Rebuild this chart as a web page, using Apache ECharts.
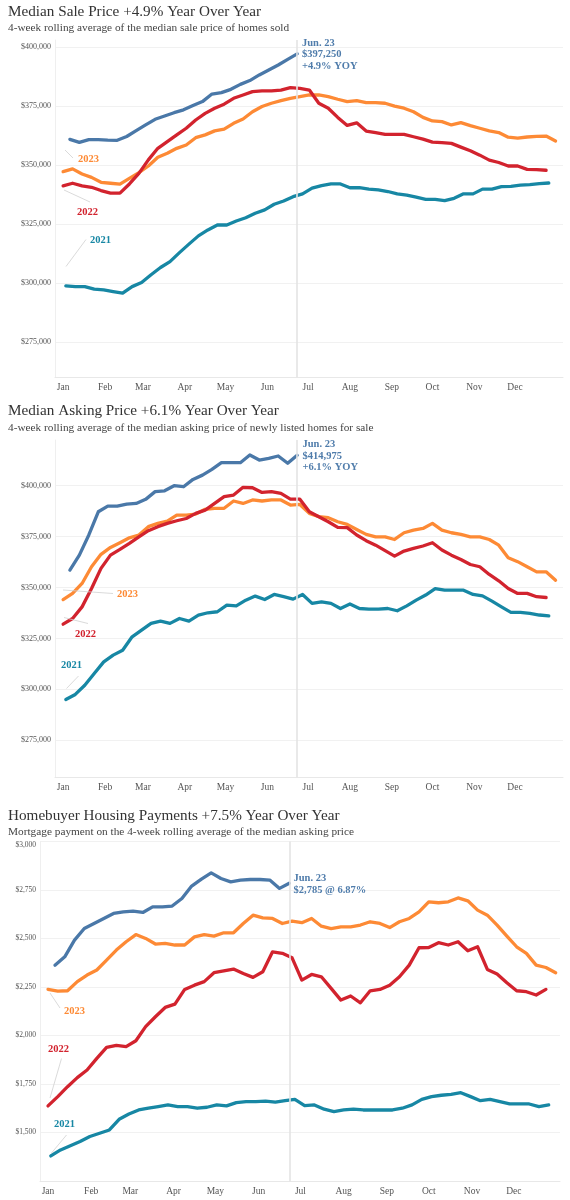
<!DOCTYPE html>
<html>
<head>
<meta charset="utf-8">
<script src="https://cdn.jsdelivr.net/npm/echarts@6/dist/echarts.min.js"></script>
<style>
html,body{margin:0;padding:0;background:#ffffff;}
#c{width:570px;height:1200px;}
</style>
</head>
<body>
<div id="c"></div>
<script>
// ---------- categories / ticks ----------
const MONTHS = ['Jan','Feb','Mar','Apr','May','Jun','Jul','Aug','Sep','Oct','Nov','Dec'];
const MONTH_START_DAYS = [0,31,59,90,120,151,181,212,243,273,304,334];
const LATEST_DAY = 173;            // Jun. 23
const START_DAY_2024 = 5;          // first weekly observation (day of year)
const START_DAY_2023 = 0;
const START_DAY_2022 = 0;
const START_DAY_2021 = 2;
const PRICE_TICKS = [275,300,325,350,375,400];            // thousands of dollars
const PAYMENT_TICKS = [1500,1750,2000,2250,2500,2750,3000];

// ---------- Median sale price (thousands $) ----------
const sale2024 = [361.0,359.7,360.9,360.9,360.7,360.6,362.2,364.7,367.1,369.5,370.9,372.3,373.5,375.3,377.0,380.2,380.8,382.2,384.3,385.9,388.3,390.4,392.5,394.9,397.25];
const sale2023 = [347.3,348.5,346.3,344.9,342.8,342.4,342.0,344.5,346.9,349.7,353.4,355.1,357.2,358.6,361.7,362.9,364.6,365.3,367.8,369.6,372.7,374.9,376.3,377.4,378.4,
  379.1,379.8,379.8,379.1,378.0,377.0,377.4,376.6,376.6,376.3,375.1,374.2,372.7,370.3,368.8,368.5,367.1,368.1,366.8,365.7,364.6,363.9,361.9,361.5,
  362.0,362.3,362.4,360.3];
const sale2022 = [341.3,342.4,341.3,340.7,339.3,338.2,338.2,342.1,346.6,352.3,357.2,360.0,362.9,365.7,369.2,372.0,374.2,375.9,378.4,379.8,381.2,381.5,381.5,381.9,382.9,
  382.6,381.9,376.3,374.2,370.3,366.9,368.0,364.5,363.8,363.1,363.1,363.1,362.1,361.1,359.8,359.6,359.3,357.7,356.2,354.3,352.2,351.2,349.7,349.7,
  348.3,348.2,347.9];
const sale2021 = [298.9,298.6,298.6,297.5,297.2,296.5,295.8,298.6,300.3,303.6,306.7,309.2,313.0,316.6,320.1,322.6,324.7,324.7,326.4,327.8,329.7,331.1,333.5,334.9,336.7,
  337.9,340.3,341.4,342.1,342.1,340.5,340.5,339.9,339.6,338.9,337.9,337.4,336.5,335.6,335.6,335.0,336.0,337.9,337.9,339.9,339.9,341.0,341.1,341.6,
  341.8,342.2,342.5];

// ---------- Median asking price (thousands $) ----------
const ask2024 = [358.6,365.9,375.8,387.2,390.0,390.0,391.0,391.3,393.3,397.1,397.5,400.0,399.5,403.1,405.2,408.0,411.3,411.3,411.3,415.1,412.6,413.4,414.6,411.0,414.975];
const ask2023 = [344.1,347.1,352.0,360.2,366.3,369.7,372.0,374.4,375.8,379.9,381.5,382.6,385.6,385.6,386.1,388.4,388.9,388.9,392.5,391.3,393.0,392.5,393.0,393.0,390.5,
  390.8,386.4,384.8,384.3,382.3,381.0,378.5,376.1,374.9,374.9,373.6,376.9,378.2,379.0,381.5,378.2,376.9,376.1,374.9,374.9,373.6,370.8,364.6,362.7,360.2,357.7,357.7,353.6];
const ask2022 = [332.0,334.8,340.5,349.5,359.4,365.9,368.7,371.7,374.9,377.9,379.9,381.5,382.8,383.9,386.4,388.0,391.3,394.6,395.4,399.2,399.0,396.7,397.1,396.2,393.4,
  393.4,387.2,384.8,382.3,379.5,379.4,375.8,373.0,370.8,368.1,365.4,367.9,369.2,370.4,372.0,368.4,365.9,363.8,361.3,360.2,356.4,353.3,349.5,347.1,347.1,345.5,345.1];
const ask2021 = [295.0,297.5,302.0,307.8,313.5,316.8,319.2,325.8,329.1,332.4,333.5,332.4,334.8,333.5,336.4,337.6,338.1,341.4,341.0,343.8,345.8,344.1,346.6,345.5,344.3,
  346.6,342.2,343.0,342.2,339.7,341.9,339.7,339.4,339.4,339.7,338.6,341.0,343.8,346.3,349.5,348.7,348.7,348.7,346.6,345.9,343.3,340.5,337.8,337.8,337.3,336.5,336.1];

// ---------- Homebuyer monthly payment ($) ----------
const pay2024 = [2362,2405,2491,2551,2577,2603,2629,2637,2641,2634,2663,2663,2667,2706,2770,2806,2838,2809,2792,2801,2804,2804,2801,2758,2785];
const pay2023 = [2237,2228,2230,2277,2311,2337,2388,2440,2483,2520,2500,2471,2474,2466,2466,2508,2520,2512,2529,2529,2577,2620,2606,2603,2577,
  2589,2581,2603,2563,2551,2560,2560,2569,2586,2577,2556,2586,2603,2637,2689,2684,2689,2709,2694,2646,2620,2569,2512,2457,2423,2362,2350,2323];
const pay2022 = [1636,1684,1735,1782,1821,1881,1938,1948,1942,1972,2045,2096,2144,2161,2237,2259,2277,2323,2332,2342,2319,2299,2328,2431,2423,
  2400,2285,2314,2302,2242,2182,2203,2168,2230,2237,2259,2302,2362,2452,2453,2478,2466,2483,2436,2457,2340,2316,2271,2230,2225,2208,2237];
const pay2021 = [1378,1409,1430,1452,1478,1495,1512,1567,1594,1615,1624,1632,1641,1632,1632,1624,1629,1641,1636,1653,1658,1658,1661,1655,1663,
  1670,1637,1641,1619,1607,1615,1619,1615,1615,1615,1615,1624,1641,1670,1684,1691,1696,1704,1684,1663,1670,1658,1646,1646,1646,1632,1641];

// ---------- styling ----------
const C2024 = '#4a78a8', C2023 = '#fd8a35', C2022 = '#d2232e', C2021 = '#1787a4';
const SERIF = '"Liberation Serif","DejaVu Serif",serif';

function weekly(startDay, values){ return values.map((v,i)=>[startDay + 7*i, v]); }
function fmtK(v){ return '$' + v + ',000'; }
function fmtD(v){ const t = Math.floor(v/1000), r = v % 1000; return '$' + t + ',' + String(r).padStart(3,'0'); }

const grids = [
  {left:55, top:40,    width:508, height:337.3},
  {left:55, top:440,   width:508, height:337.3},
  {left:40, top:841.5, width:520, height:340.2}
];
const xRanges = [[-6,369.5],[-6,369.5],[-5.74,367.1]];
const yRanges = [[260.17,403.1],[256.8,422.45],[1245,3000]];
const yTicks = [PRICE_TICKS, PRICE_TICKS, PAYMENT_TICKS];
const yFmt = [fmtK, fmtK, fmtD];
const yFont = [8, 8, 7.5];

const xAxis = grids.map((g,i)=>({
  type:'value', gridIndex:i, min:xRanges[i][0], max:xRanges[i][1],
  axisLine:{show:true, onZero:false, lineStyle:{color:'#e8e8e8', width:1}},
  axisTick:{show:false, customValues:MONTH_START_DAYS},
  splitLine:{show:false},
  axisLabel:{customValues:MONTH_START_DAYS, margin:5, color:'#555', fontFamily:SERIF, fontSize:9.5,
    formatter:v=>MONTHS[MONTH_START_DAYS.indexOf(v)] || ''}
}));
const yAxis = grids.map((g,i)=>({
  type:'value', gridIndex:i, min:yRanges[i][0], max:yRanges[i][1],
  axisLine:{show:true, onZero:false, lineStyle:{color:'#efefef', width:1}},
  axisTick:{show:false, customValues:yTicks[i]},
  splitLine:{show:true, lineStyle:{color:'#f1f1f1', width:1}},
  axisLabel:{customValues:yTicks[i], margin:4, color:'#555', fontFamily:SERIF, fontSize:yFont[i],
    verticalAlignMaxLabel: i===2 ? 'top' : null, formatter:yFmt[i]}
}));

function line(idx, color, data, withMark){
  const s = {
    type:'line', xAxisIndex:idx, yAxisIndex:idx, data:data, showSymbol:false, symbol:'none',
    lineStyle:{color:color, width:3.3, cap:'round', join:'round'}, itemStyle:{color:color},
    animation:false, silent:true
  };
  if (withMark){
    s.markLine = {silent:true, symbol:['none','none'], label:{show:false},
      lineStyle:{color:'#e4e4e4', width:1.6, type:'solid'}, data:[{xAxis:LATEST_DAY}]};
  }
  return s;
}

const series = [];
[[sale2021,sale2023,sale2022,sale2024],[ask2021,ask2023,ask2022,ask2024],[pay2021,pay2023,pay2022,pay2024]].forEach((set,i)=>{
  series.push(line(i, C2021, weekly(START_DAY_2021, set[0]), true));
  series.push(line(i, C2023, weekly(START_DAY_2023, set[1]), false));
  series.push(line(i, C2022, weekly(START_DAY_2022, set[2]), false));
  series.push(line(i, C2024, weekly(START_DAY_2024, set[3]), false));
});

// ---------- text annotations ----------
function txt(x, y, text, font, fill){
  return {type:'text', x:x, y:y, silent:true, z:10,
    style:{text:text, font:font, fill:fill, verticalAlign:'middle', align:'left'}};
}
function leader(x1,y1,x2,y2){
  return {type:'line', silent:true, z:9, shape:{x1:x1,y1:y1,x2:x2,y2:y2},
    style:{stroke:'#d0d0d0', lineWidth:0.8}};
}
const TITLE_FONT = '15.2px ' + SERIF;
const SUB_FONT = '11.3px ' + SERIF;
const ANN_FONT = 'bold 10.5px ' + SERIF;
const YEAR_FONT = 'bold 10.5px ' + SERIF;

const graphic = [
  txt(8, 12, 'Median Sale Price +4.9% Year Over Year', TITLE_FONT, '#333'),
  txt(8, 28.5, '4-week rolling average of the median sale price of homes sold', SUB_FONT, '#444'),
  txt(302, 43, 'Jun. 23', ANN_FONT, '#4f7cab'),
  txt(302, 54.5, '$397,250', ANN_FONT, '#4f7cab'),
  txt(302, 66, '+4.9% YOY', ANN_FONT, '#4f7cab'),
  leader(65,150,73,158), txt(78, 159.5, '2023', YEAR_FONT, C2023),
  leader(64,190,90,202), txt(77, 212.5, '2022', YEAR_FONT, C2022),
  leader(66,266.5,86,239.5), txt(90, 240.5, '2021', YEAR_FONT, C2021),

  txt(8, 411.5, 'Median Asking Price +6.1% Year Over Year', TITLE_FONT, '#333'),
  txt(8, 428, '4-week rolling average of the median asking price of newly listed homes for sale', SUB_FONT, '#444'),
  txt(302.5, 444.5, 'Jun. 23', ANN_FONT, '#4f7cab'),
  txt(302.5, 456, '$414,975', ANN_FONT, '#4f7cab'),
  txt(302.5, 467.5, '+6.1% YOY', ANN_FONT, '#4f7cab'),
  leader(63,590,113,593.5), txt(117, 594.5, '2023', YEAR_FONT, C2023),
  leader(64,617.5,88,623.5), txt(75, 634, '2022', YEAR_FONT, C2022),
  leader(66.5,688.5,78.5,676), txt(61, 665.5, '2021', YEAR_FONT, C2021),

  txt(8, 816, 'Homebuyer Housing Payments +7.5% Year Over Year', TITLE_FONT, '#333'),
  txt(8, 832, 'Mortgage payment on the 4-week rolling average of the median asking price', SUB_FONT, '#444'),
  txt(293.5, 878.5, 'Jun. 23', ANN_FONT, '#4f7cab'),
  txt(293.5, 890, '$2,785 @ 6.87%', ANN_FONT, '#4f7cab'),
  leader(50,993,60,1008), txt(64, 1011, '2023', YEAR_FONT, C2023),
  leader(50,1098,61.5,1058.5), txt(48, 1049.5, '2022', YEAR_FONT, C2022),
  leader(51.5,1153,66.5,1135), txt(54, 1124.5, '2021', YEAR_FONT, C2021)
];

const chart = echarts.init(document.getElementById('c'), null, {renderer:'canvas'});
chart.setOption({
  animation:false,
  backgroundColor:'#ffffff',
  grid:grids,
  xAxis:xAxis,
  yAxis:yAxis,
  series:series,
  graphic:graphic
});
</script>
</body>
</html>
